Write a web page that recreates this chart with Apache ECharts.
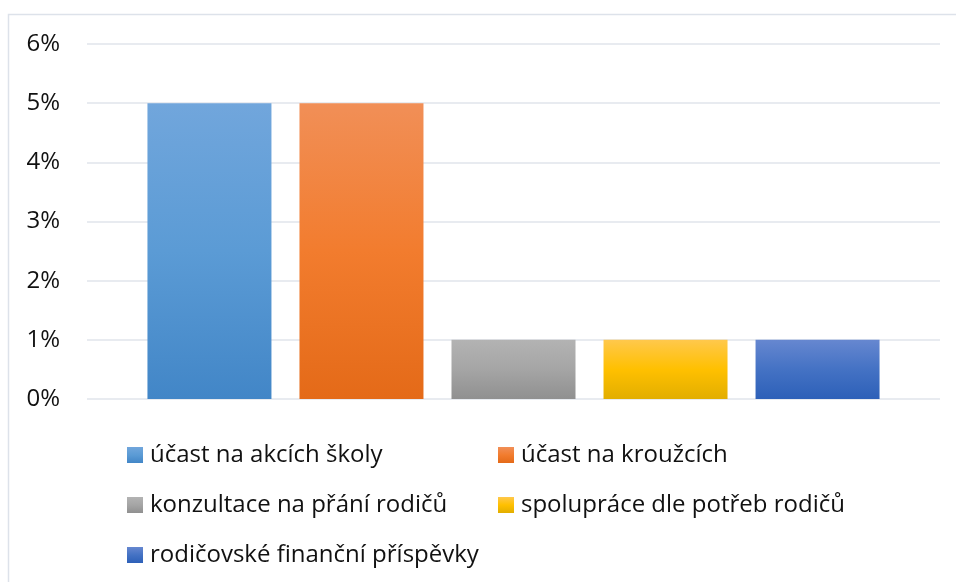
<!DOCTYPE html>
<html>
<head>
<meta charset="utf-8">
<script src="https://cdn.jsdelivr.net/npm/echarts@6/dist/echarts.min.js"></script>
<style>
  html, body { margin: 0; padding: 0; background: #fff; }
  #chart { width: 956px; height: 582px; }
</style>
</head>
<body>
<div id="chart"></div>
<script>
var seriesNames = ['účast na akcích školy', 'účast na kroužcích', 'konzultace na přání rodičů', 'spolupráce dle potřeb rodičů', 'rodičovské finanční příspěvky'];
var seriesValues = [5, 5, 1, 1, 1];
var yTicks = [0, 1, 2, 3, 4, 5, 6];

// gradient stops per series: top, middle, bottom
var colors = [
    ['#71a6dc', '#5b9bd5', '#4286c7'],
    ['#f18f57', '#f27c2e', '#e46a18'],
    ['#b3b3b3', '#a5a5a5', '#909090'],
    ['#ffc84c', '#ffc000', '#e2ae00'],
    ['#6687d0', '#4472c4', '#2d60b8']
];

function grad(c) {
    return new echarts.graphic.LinearGradient(0, 0, 0, 1, [
        {offset: 0, color: c[0]},
        {offset: 0.5, color: c[1]},
        {offset: 1, color: c[2]}
    ]);
}

var font = '"Open Sans", "Noto Sans", sans-serif';
var dom = document.getElementById('chart');
var myChart = echarts.init(dom);

var legendPos = [[127, 443], [498, 443], [127, 493], [498, 493], [127, 543]];
var legends = seriesNames.map(function (n, i) {
    return {
        left: legendPos[i][0],
        top: legendPos[i][1],
        padding: 0,
        itemWidth: 16,
        itemHeight: 16,
        icon: 'rect',
        textStyle: {fontFamily: font, fontSize: 24, color: '#111', padding: [0, 0, 0, 2], lineHeight: 24},
        data: [n]
    };
});

var option = {
    backgroundColor: '#fff',
    animation: false,
    graphic: [{
        type: 'rect',
        shape: {x: 8.5, y: 14.5, width: 960, height: 600},
        style: {fill: 'none', stroke: '#dde2ea', lineWidth: 1.5},
        silent: true
    }],
    grid: {left: 87, right: 16, top: 44, bottom: 183},
    legend: legends,
    xAxis: {
        type: 'category',
        data: [''],
        axisLine: {show: false},
        axisTick: {show: false},
        axisLabel: {show: false}
    },
    yAxis: {
        type: 'value',
        min: yTicks[0],
        max: yTicks[yTicks.length - 1],
        interval: 1,
        axisLine: {show: false},
        axisTick: {show: false},
        axisLabel: {
            formatter: '{value}%',
            fontFamily: font,
            fontSize: 24,
            color: '#111',
            margin: 27
        },
        splitLine: {lineStyle: {color: '#e1e5eb', width: 1.5}}
    },
    series: seriesNames.map(function (n, i) {
        return {
            name: n,
            type: 'bar',
            data: [seriesValues[i]],
            barWidth: 124,
            barGap: '22.6%',
            itemStyle: {color: grad(colors[i])}
        };
    })
};

myChart.setOption(option);
</script>
</body>
</html>
